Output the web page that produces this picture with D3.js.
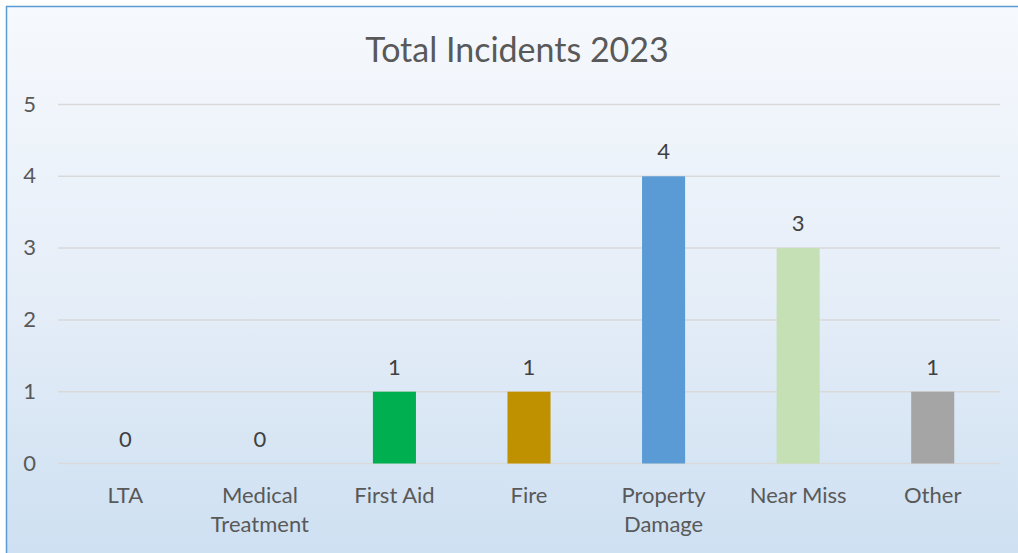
<!DOCTYPE html>
<html>
<head>
<meta charset="utf-8">
<script src="https://cdn.jsdelivr.net/npm/d3@7"></script>
<style>
  html, body { margin: 0; padding: 0; background: #fff; }
  svg { display: block; font-family: Lato, "Open Sans", sans-serif; }
</style>
</head>
<body>
<div id="chart"></div>
<script>
(function () {
    'use strict';

    var categories = [['LTA'], ['Medical', 'Treatment'], ['First Aid'], ['Fire'],
        ['Property', 'Damage'], ['Near Miss'], ['Other']];
    var values = [0, 0, 1, 1, 4, 3, 1];
    var barColors = ['#5B9BD5', '#ED7D31', '#00B050', '#BF9000', '#5B9BD5', '#C5E0B4', '#A5A5A5'];
    var yTicks = [0, 1, 2, 3, 4, 5];

    var W = 1018, H = 553;
    var margin = {top: 104, right: 18, bottom: 90, left: 58};

    var svg = d3.select('#chart').append('svg')
        .attr('width', W)
        .attr('height', H);

    var defs = svg.append('defs');
    var grad = defs.append('linearGradient')
        .attr('id', 'bg')
        .attr('x1', 0).attr('y1', 0).attr('x2', 0).attr('y2', 1);
    grad.append('stop').attr('offset', '0%').attr('stop-color', '#F6F9FD');
    grad.append('stop').attr('offset', '50%').attr('stop-color', '#E6EEF8');
    grad.append('stop').attr('offset', '100%').attr('stop-color', '#CCDFF1');

    svg.append('rect')
        .attr('x', 6.5).attr('y', 6.5)
        .attr('width', W + 10).attr('height', H + 10)
        .attr('fill', 'url(#bg)')
        .attr('stroke', '#5B9BD5')
        .attr('stroke-width', 1.5);

    svg.append('text')
        .attr('x', 517)
        .attr('y', 62)
        .attr('text-anchor', 'middle')
        .style('font-size', '34px')
        .style('fill', '#595959')
        .text('Total Incidents 2023');

    var x = d3.scaleBand()
        .domain(d3.range(values.length))
        .range([margin.left, W - margin.right])
        .paddingInner(0.68)
        .paddingOuter(0.34);

    var y = d3.scaleLinear()
        .domain([0, 5])
        .range([463.5, 104.5]);

    var g = svg.append('g');

    g.selectAll('line.grid')
        .data(yTicks)
        .enter().append('line')
        .attr('class', 'grid')
        .attr('x1', margin.left)
        .attr('x2', W - margin.right)
        .attr('y1', function (d) { return y(d); })
        .attr('y2', function (d) { return y(d); })
        .attr('stroke', '#D9D9D9')
        .attr('stroke-width', 1.5);

    g.selectAll('text.ytick')
        .data(yTicks)
        .enter().append('text')
        .attr('class', 'ytick')
        .attr('x', 36)
        .attr('y', function (d) { return y(d) + 7; })
        .attr('text-anchor', 'end')
        .style('font-size', '22px')
        .style('fill', '#595959')
        .text(function (d) { return d; });

    g.selectAll('rect.bar')
        .data(values)
        .enter().append('rect')
        .attr('class', 'bar')
        .attr('x', function (d, i) { return x(i); })
        .attr('width', x.bandwidth())
        .attr('y', function (d) { return y(d); })
        .attr('height', function (d) { return y(0) - y(d); })
        .attr('fill', function (d, i) { return barColors[i]; });

    g.selectAll('text.val')
        .data(values)
        .enter().append('text')
        .attr('class', 'val')
        .attr('x', function (d, i) { return x(i) + x.bandwidth() / 2; })
        .attr('y', function (d) { return y(d) - 17; })
        .attr('text-anchor', 'middle')
        .style('font-size', '22px')
        .style('fill', '#404040')
        .text(function (d) { return d; });

    var xl = g.selectAll('text.xlab')
        .data(categories)
        .enter().append('text')
        .attr('class', 'xlab')
        .attr('text-anchor', 'middle')
        .attr('transform', function (d, i) {
            return 'translate(' + (x(i) + x.bandwidth() / 2) + ',503)';
        })
        .style('font-size', '22px')
        .style('fill', '#595959');

    xl.selectAll('tspan')
        .data(function (d) { return d; })
        .enter().append('tspan')
        .attr('x', 0)
        .attr('y', function (d, i) { return i * 29; })
        .text(function (d) { return d; });
})();
</script>
</body>
</html>
